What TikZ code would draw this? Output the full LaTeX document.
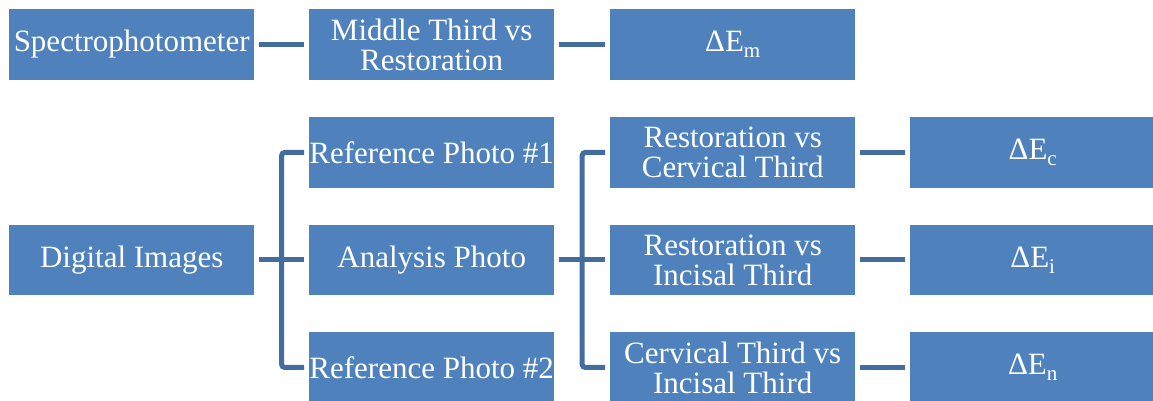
\documentclass[tikz,border=0pt]{standalone}
\usepackage{fontspec}
\setmainfont{Liberation Serif}
\usetikzlibrary{calc}
\definecolor{boxblue}{HTML}{4F81BD}
\definecolor{lineblue}{HTML}{436DA0}
\newcommand{\lowsub}[1]{\raisebox{-6pt}{\fontsize{21}{21}\selectfont #1}}
\begin{document}
\begin{tikzpicture}[x=1pt,y=-1pt,
  box/.style={fill=boxblue, text=white, minimum height=70.5pt, minimum width=245pt,
    inner xsep=0pt, inner ysep=0pt, align=center,
    font=\fontsize{31}{30}\selectfont, anchor=north west},
  conn/.style={draw=lineblue, line width=5pt}]
\useasboundingbox (0,0) rectangle (1153,401);
\node[box] (spec) at (9,9) {Spectrophotometer};
\node[box] (mid) at (309,9) {Middle Third vs\\Restoration};
\node[box] (dem) at (610,9) {ΔE\lowsub{m}};
\node[box] (ref1) at (309,117) {Reference Photo \#1};
\node[box] (rc) at (610,117) {Restoration vs\\Cervical Third};
\node[box] (dec) at (910,117) {ΔE\lowsub{c}};
\node[box] (dig) at (9,224.5) {Digital Images};
\node[box] (ana) at (309,224.5) {Analysis Photo};
\node[box] (ri) at (610,224.5) {Restoration vs\\Incisal Third};
\node[box] (dei) at (910,224.5) {ΔE\lowsub{i}};
\node[box] (ref2) at (309,332) {Reference Photo \#2};
\node[box] (ci) at (610,332) {Cervical Third vs\\Incisal Third};
\node[box] (den) at (910,332) {ΔE\lowsub{n}};
% connectors
\draw[conn] ([xshift=5pt]spec.east) -- ([xshift=-5pt]mid.west);
\draw[conn] ([xshift=5pt]mid.east) -- ([xshift=-5pt]dem.west);
\coordinate (b1) at ($(dig.east)!0.5!(ana.west)$);
\draw[conn] ([xshift=5pt]dig.east) -- ([xshift=-5pt]ana.west);
\draw[conn, rounded corners=3pt] ([xshift=-5pt]ref1.west) -| (b1) |- ([xshift=-5pt]ref2.west);
\coordinate (b2) at ($(ana.east)!0.5!(ri.west)$);
\draw[conn] ([xshift=5pt]ana.east) -- ([xshift=-5pt]ri.west);
\draw[conn, rounded corners=3pt] ([xshift=-5pt]rc.west) -| (b2) |- ([xshift=-5pt]ci.west);
\draw[conn] ([xshift=5pt]rc.east) -- ([xshift=-5pt]dec.west);
\draw[conn] ([xshift=5pt]ri.east) -- ([xshift=-5pt]dei.west);
\draw[conn] ([xshift=5pt]ci.east) -- ([xshift=-5pt]den.west);
\end{tikzpicture}
\end{document}
